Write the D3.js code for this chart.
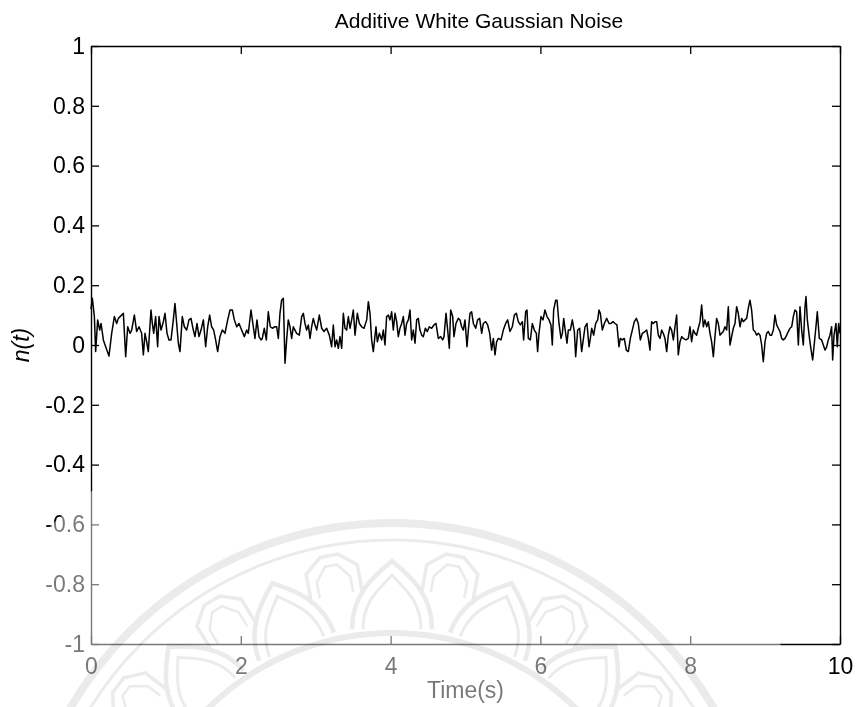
<!DOCTYPE html>
<html>
<head>
<meta charset="utf-8">
<script src="https://cdn.jsdelivr.net/npm/d3@7"></script>
<style>
  html, body { margin: 0; padding: 0; background: #fff; }
  svg { display: block; font-family: "Liberation Sans", Arial, Helvetica, sans-serif; }
</style>
</head>
<body>
<svg id="chart" width="856" height="707"></svg>
<script>
// Sampled noise trace: [time in seconds, amplitude]
const noiseSamples = [
  [0.000,0.120],[0.018,0.156],[0.045,0.095],[0.062,-0.022],[0.089,0.084],[0.116,0.050],[0.134,0.072],[0.165,0.017],
  [0.196,-0.006],[0.240,-0.037],[0.276,0.039],[0.312,0.095],[0.343,0.072],[0.365,0.089],[0.409,0.100],[0.432,0.106],
  [0.463,-0.039],[0.490,0.061],[0.521,0.039],[0.543,0.050],[0.579,0.100],[0.610,0.045],[0.641,0.061],[0.676,0.039],
  [0.699,-0.033],[0.721,0.039],[0.743,0.011],[0.765,-0.022],[0.801,0.117],[0.819,0.072],[0.837,0.039],[0.863,0.095],
  [0.890,-0.006],[0.908,0.095],[0.935,0.050],[0.966,0.078],[0.988,0.106],[1.015,0.039],[1.041,0.017],[1.068,0.017],
  [1.099,0.084],[1.121,0.139],[1.144,0.072],[1.166,0.006],[1.188,-0.022],[1.219,0.095],[1.246,0.061],[1.277,0.050],
  [1.308,0.084],[1.335,0.089],[1.366,0.050],[1.388,0.028],[1.415,0.072],[1.442,0.028],[1.469,0.050],[1.500,0.084],
  [1.531,-0.006],[1.558,0.061],[1.584,0.100],[1.611,0.061],[1.638,0.050],[1.664,0.017],[1.691,-0.022],[1.722,0.028],
  [1.753,0.050],[1.789,0.039],[1.825,0.084],[1.856,0.117],[1.887,0.117],[1.914,0.084],[1.945,0.061],[1.976,0.072],
  [2.011,0.050],[2.047,0.028],[2.078,0.050],[2.100,0.039],[2.136,0.117],[2.167,0.061],[2.189,0.022],[2.216,0.084],
  [2.243,0.028],[2.270,0.017],[2.287,0.022],[2.314,0.056],[2.341,0.017],[2.367,0.111],[2.394,0.061],[2.421,0.056],
  [2.456,0.061],[2.479,0.061],[2.501,0.022],[2.523,0.106],[2.545,0.150],[2.568,0.156],[2.590,-0.061],[2.612,0.017],
  [2.634,0.084],[2.657,0.061],[2.679,0.022],[2.701,0.061],[2.723,0.050],[2.746,0.039],[2.781,0.033],[2.813,0.095],
  [2.835,0.106],[2.857,0.072],[2.879,0.050],[2.902,0.067],[2.924,0.022],[2.946,0.061],[2.968,0.089],[2.991,0.067],
  [3.013,0.050],[3.048,0.100],[3.080,0.056],[3.111,0.045],[3.146,0.056],[3.182,0.033],[3.213,-0.006],[3.235,0.067],
  [3.258,-0.006],[3.280,0.017],[3.302,-0.011],[3.324,0.028],[3.347,-0.011],[3.369,0.106],[3.391,0.056],[3.413,0.050],
  [3.436,0.095],[3.458,0.056],[3.480,0.084],[3.502,0.117],[3.525,0.033],[3.556,0.106],[3.583,0.072],[3.614,0.061],
  [3.645,0.056],[3.681,0.084],[3.703,0.145],[3.725,0.106],[3.747,0.017],[3.769,-0.022],[3.805,0.061],[3.823,0.011],
  [3.850,0.039],[3.881,0.017],[3.903,0.050],[3.925,0.000],[3.947,0.095],[3.970,0.100],[3.992,0.084],[4.014,0.111],
  [4.036,0.050],[4.059,0.106],[4.081,0.078],[4.103,0.028],[4.125,0.056],[4.148,0.072],[4.170,0.095],[4.192,0.033],
  [4.214,0.072],[4.237,0.084],[4.259,0.117],[4.281,0.017],[4.303,0.050],[4.326,0.006],[4.348,0.084],[4.370,0.089],
  [4.392,0.050],[4.415,0.033],[4.437,0.028],[4.464,0.056],[4.490,0.045],[4.517,0.061],[4.548,0.056],[4.579,0.067],
  [4.606,0.072],[4.637,0.022],[4.668,0.028],[4.695,0.017],[4.713,0.028],[4.740,0.106],[4.762,0.050],[4.784,-0.011],
  [4.802,0.117],[4.829,0.095],[4.846,0.028],[4.873,0.072],[4.904,0.089],[4.926,0.084],[4.949,0.061],[4.971,0.050],
  [4.993,0.084],[5.020,-0.006],[5.038,0.050],[5.060,0.106],[5.082,0.111],[5.105,0.072],[5.136,0.056],[5.162,0.084],
  [5.189,0.089],[5.216,0.039],[5.238,0.072],[5.269,0.078],[5.296,0.067],[5.323,0.039],[5.349,-0.017],[5.372,0.022],
  [5.394,-0.033],[5.416,0.011],[5.438,0.022],[5.474,0.017],[5.505,0.050],[5.536,0.072],[5.563,0.084],[5.594,0.045],
  [5.625,0.061],[5.652,0.100],[5.679,0.106],[5.705,0.078],[5.732,0.067],[5.759,0.078],[5.776,0.017],[5.803,0.111],
  [5.821,0.117],[5.839,0.022],[5.866,0.017],[5.892,0.072],[5.919,0.050],[5.946,0.039],[5.963,-0.022],[5.981,0.039],
  [6.008,0.095],[6.035,0.084],[6.061,0.117],[6.088,0.095],[6.115,0.084],[6.141,0.067],[6.159,0.000],[6.177,0.117],
  [6.204,0.150],[6.222,0.150],[6.248,0.072],[6.275,0.022],[6.293,0.039],[6.311,0.089],[6.328,0.056],[6.355,0.006],
  [6.373,0.050],[6.400,0.050],[6.426,0.084],[6.453,0.045],[6.471,-0.039],[6.498,0.050],[6.524,0.056],[6.551,-0.022],
  [6.578,0.028],[6.596,0.061],[6.622,0.072],[6.649,-0.006],[6.667,0.022],[6.685,0.056],[6.711,0.033],[6.738,0.072],
  [6.765,0.084],[6.782,0.117],[6.800,0.106],[6.827,0.050],[6.854,0.072],[6.885,0.089],[6.916,0.072],[6.942,0.072],
  [6.969,0.078],[6.996,0.072],[7.022,0.067],[7.049,-0.006],[7.067,0.022],[7.094,0.017],[7.120,0.022],[7.147,-0.017],
  [7.174,-0.022],[7.201,0.022],[7.227,0.050],[7.254,0.078],[7.281,0.089],[7.307,0.072],[7.334,0.017],[7.361,0.039],
  [7.396,0.045],[7.419,0.050],[7.441,0.022],[7.463,-0.017],[7.485,0.078],[7.508,0.072],[7.530,0.078],[7.552,0.078],
  [7.574,0.033],[7.597,0.022],[7.619,0.050],[7.641,0.039],[7.663,0.022],[7.686,-0.022],[7.708,0.033],[7.730,0.061],
  [7.752,0.050],[7.775,0.017],[7.797,0.061],[7.819,0.100],[7.841,-0.033],[7.864,0.011],[7.886,0.028],[7.908,0.022],
  [7.944,0.017],[7.975,0.022],[7.997,0.061],[8.019,0.011],[8.042,0.050],[8.064,0.039],[8.086,0.033],[8.108,0.056],
  [8.131,0.078],[8.153,0.134],[8.175,0.061],[8.197,0.084],[8.220,0.061],[8.242,0.078],[8.264,0.039],[8.286,0.011],
  [8.309,-0.039],[8.331,0.028],[8.353,0.089],[8.375,0.072],[8.398,0.033],[8.420,0.039],[8.442,0.045],[8.464,0.061],
  [8.487,0.050],[8.509,0.128],[8.531,0.000],[8.553,0.028],[8.576,0.056],[8.598,0.072],[8.620,0.128],[8.642,0.106],
  [8.665,0.061],[8.687,0.089],[8.709,0.078],[8.731,0.084],[8.754,0.089],[8.776,0.123],[8.798,0.150],[8.820,0.117],
  [8.843,0.050],[8.865,0.045],[8.887,0.033],[8.910,0.039],[8.932,0.033],[8.954,0.000],[8.976,-0.056],[8.999,0.011],
  [9.021,0.039],[9.043,0.045],[9.065,0.033],[9.088,0.033],[9.110,0.050],[9.132,0.100],[9.154,0.067],[9.177,0.056],
  [9.199,0.045],[9.221,0.022],[9.243,0.017],[9.266,0.022],[9.288,0.033],[9.310,0.045],[9.332,0.056],[9.355,0.061],
  [9.377,0.095],[9.399,0.117],[9.421,0.111],[9.444,0.000],[9.466,0.128],[9.488,0.050],[9.510,0.000],[9.533,0.128],
  [9.546,0.162],[9.564,0.084],[9.590,0.028],[9.608,-0.006],[9.635,-0.050],[9.653,-0.006],[9.679,0.061],[9.697,0.111],
  [9.724,0.022],[9.755,0.017],[9.777,0.000],[9.800,-0.017],[9.822,-0.006],[9.844,0.017],[9.866,0.033],[9.888,0.061],
  [9.902,-0.050],[9.920,0.033],[9.946,0.072],[9.964,-0.006],[9.982,0.072],[10.000,0.039]
];

const xTicks = [0, 2, 4, 6, 8, 10];
const xTickLabels = ["0", "2", "4", "6", "8", "10"];
const yTicks = [-1, -0.8, -0.6, -0.4, -0.2, 0, 0.2, 0.4, 0.6, 0.8, 1];
const yTickLabels = ["-1", "-0.8", "-0.6", "-0.4", "-0.2", "0", "0.2", "0.4", "0.6", "0.8", "1"];
const titleText = "Additive White Gaussian Noise";
const xLabelText = "Time(s)";
const yLabelText = "n(t)";

const W = 856, H = 707;
const margin = { top: 46, right: 16, bottom: 63, left: 91 };
const plotW = W - margin.left - margin.right;
const plotH = H - margin.top - margin.bottom;

const svg = d3.select("#chart");
svg.append("rect").attr("width", W).attr("height", H).attr("fill", "#fff");

const x = d3.scaleLinear().domain([0, 10]).range([0, plotW]);
const y = d3.scaleLinear().domain([-1, 1]).range([plotH, 0]);

const g = svg.append("g").attr("transform", `translate(${margin.left},${margin.top})`);

// Signal trace
const line = d3.line().x(d => x(d[0])).y(d => y(d[1]));
g.append("path")
  .datum(noiseSamples)
  .attr("fill", "none")
  .attr("stroke", "#000")
  .attr("stroke-width", 1.5)
  .attr("stroke-linejoin", "round")
  .attr("d", line);

// Box axes with inward ticks on all four sides
const tickFont = 23;
const fmtX = d => xTickLabels[xTicks.indexOf(d)];
const fmtY = d => yTickLabels[yTicks.indexOf(d)];

const axB = g.append("g").attr("transform", `translate(0,${plotH})`)
  .call(d3.axisBottom(x).tickValues(xTicks).tickFormat(fmtX).tickSizeInner(-8).tickSizeOuter(0).tickPadding(14));
const axL = g.append("g")
  .call(d3.axisLeft(y).tickValues(yTicks).tickFormat(fmtY).tickSizeInner(-8).tickSizeOuter(0).tickPadding(6));
const axT = g.append("g")
  .call(d3.axisTop(x).tickValues(xTicks).tickFormat("").tickSizeInner(-8).tickSizeOuter(0));
const axR = g.append("g").attr("transform", `translate(${plotW},0)`)
  .call(d3.axisRight(y).tickValues(yTicks).tickFormat("").tickSizeInner(-8).tickSizeOuter(0));

[axB, axL, axT, axR].forEach(a => {
  a.select(".domain").attr("stroke", "#000").attr("stroke-width", 1.4);
  a.selectAll(".tick line").attr("stroke", "#000").attr("stroke-width", 1.3);
  a.selectAll(".tick text")
    .attr("fill", "#000")
    .style("font-family", "'Liberation Sans', Arial, sans-serif")
    .style("font-size", tickFont + "px");
});

// Titles
svg.append("text")
  .attr("x", 479).attr("y", 28)
  .attr("text-anchor", "middle")
  .style("font-size", "21px").attr("fill", "#000")
  .text(titleText);

svg.append("text")
  .attr("x", margin.left + plotW / 2).attr("y", 698)
  .attr("text-anchor", "middle")
  .style("font-size", "23px").attr("fill", "#000")
  .text(xLabelText);

svg.append("text")
  .attr("transform", `translate(29,${margin.top + y(0)}) rotate(-90)`)
  .attr("text-anchor", "middle")
  .style("font-size", "23px").style("font-style", "italic").attr("fill", "#000")
  .text(yLabelText);

// Faint circular seal in the lower part of the page
const sealX = 392, sealY = 895;
svg.append("circle")
  .attr("cx", 370).attr("cy", 865).attr("r", 466)
  .attr("fill", "#fff").attr("opacity", 0.47);

const seal = svg.append("g")
  .attr("transform", `translate(${sealX},${sealY})`)
  .attr("fill", "none")
  .attr("stroke", "#ebebeb")
  .style("mix-blend-mode", "multiply");

seal.append("circle").attr("r", 372).attr("stroke-width", 8);
seal.append("circle").attr("r", 355).attr("stroke-width", 3);
seal.append("circle").attr("r", 262).attr("stroke-width", 6);

function petal(rb, rt, w) {
  const mid = rb + (rt - rb) * 0.55;
  return `M${-w},${-rb} C${-w},${-mid} ${-w * 0.35},${-(rt - 12)} 0,${-rt}` +
         ` C${w * 0.35},${-(rt - 12)} ${w},${-mid} ${w},${-rb}`;
}
function crown(rb, rt, w) {
  return `M${-w},${-rb} L${-w},${-(rt - 14)} L${-w * 0.35},${-rt} L${w * 0.35},${-rt} L${w},${-(rt - 14)} L${w},${-rb}`;
}
const backAngles = [-73.5, -52.5, -31.5, -10.5, 10.5, 31.5, 52.5, 73.5];
const frontAngles = [-84, -63, -42, -21, 0, 21, 42, 63, 84];
backAngles.forEach(a => {
  const p = seal.append("g").attr("transform", `rotate(${a})`);
  p.append("path").attr("d", crown(300, 345, 26)).attr("stroke-width", 3.5);
  p.append("path").attr("d", crown(305, 335, 17)).attr("stroke-width", 2.5);
});
frontAngles.forEach(a => {
  const p = seal.append("g").attr("transform", `rotate(${a})`);
  p.append("path").attr("d", petal(266, 334, 40)).attr("stroke-width", 4.5);
  p.append("path").attr("d", petal(266, 320, 29)).attr("stroke-width", 3);
});
</script>
</body>
</html>
